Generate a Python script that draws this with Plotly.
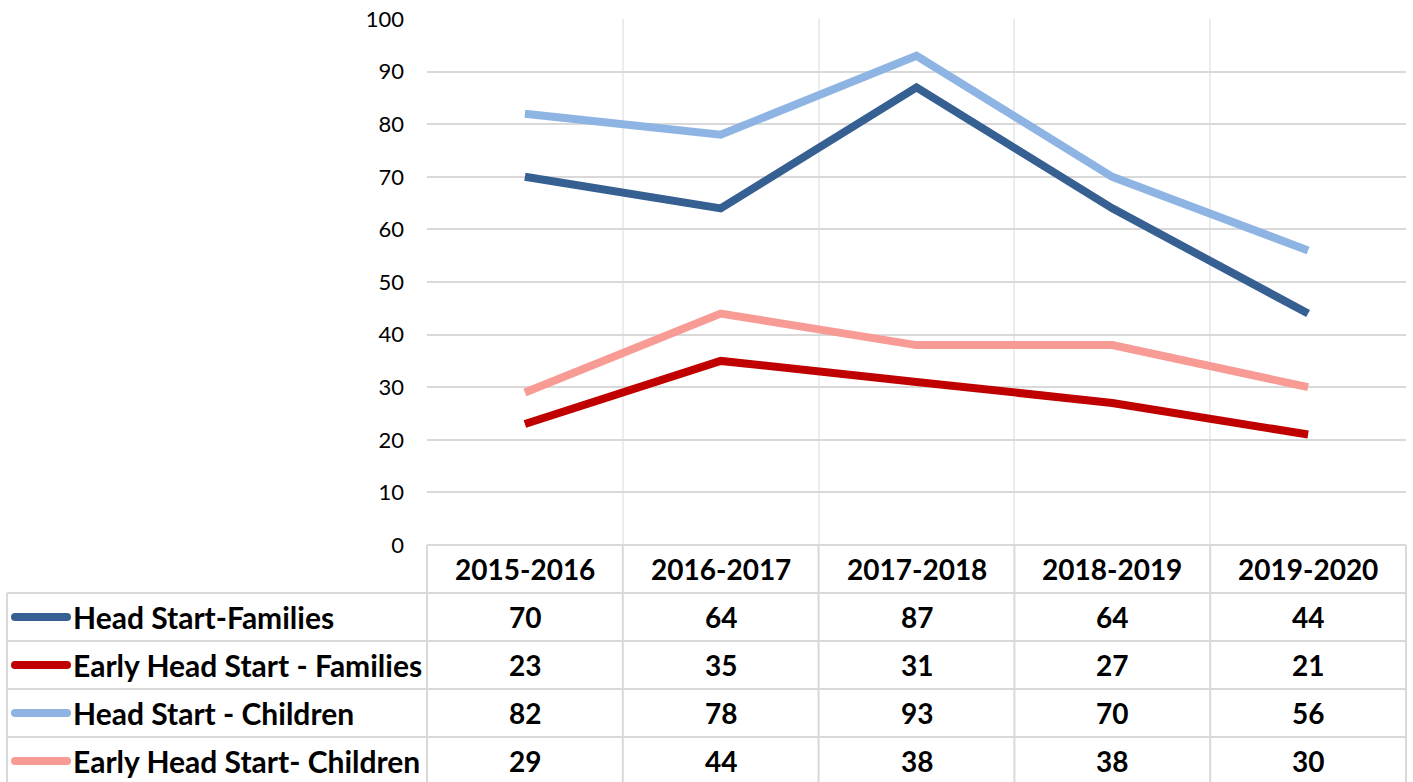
import plotly.graph_objects as go

categories = ["2015-2016", "2016-2017", "2017-2018", "2018-2019", "2019-2020"]
series_names = ["Head Start-Families", "Early Head Start - Families",
                "Head Start - Children", "Early Head Start- Children"]
hs_families = [70, 64, 87, 64, 44]
ehs_families = [23, 35, 31, 27, 21]
hs_children = [82, 78, 93, 70, 56]
ehs_children = [29, 44, 38, 38, 30]
colors = ["#376092", "#C00000", "#8EB4E3", "#F79B94"]
y_ticks = list(range(0, 101, 10))

W, H = 1413, 782
def px(x):
    return x / W
def py(y):
    return 1 - y / H

PLOT_L, PLOT_R, PLOT_T, PLOT_B = 427, 1406, 19, 545
TABLE_L = 7
ROW_H = 48
GRID = "#d9d9d9"
VGRID = "#ececec"
FONT = "Lato"

fig = go.Figure()
all_series = [hs_families, ehs_families, hs_children, ehs_children]
for name, vals, col in zip(series_names, all_series, colors):
    fig.add_trace(go.Scatter(x=categories, y=vals, name=name, mode="lines",
                             line=dict(color=col, width=8), showlegend=False))

fig.update_layout(
    template="none",
    width=W, height=H, margin=dict(l=0, r=0, t=0, b=0, pad=0),
    paper_bgcolor="white", plot_bgcolor="white",
    xaxis=dict(domain=[px(PLOT_L), px(PLOT_R)], type="category", range=[-0.5, 4.5],
               tickson="boundaries", showgrid=True, gridcolor=VGRID, gridwidth=2,
               showticklabels=False, ticks="", showline=False, zeroline=False,
               automargin=False),
    yaxis=dict(domain=[py(PLOT_B), py(PLOT_T)], range=[0, 100], tickvals=y_ticks,
               showgrid=True, gridcolor=GRID, gridwidth=2, zeroline=False,
               showline=False, ticks="", ticklabelstandoff=22, automargin=False,
               tickfont=dict(family=FONT, size=22, color="black")),
    font=dict(family=FONT),
)

shapes = []
def hline(x0, x1, y):
    shapes.append(dict(type="line", xref="paper", yref="paper", x0=px(x0), x1=px(x1),
                       y0=py(y), y1=py(y), line=dict(color=GRID, width=2)))
def vline(x, y0, y1):
    shapes.append(dict(type="line", xref="paper", yref="paper", x0=px(x), x1=px(x),
                       y0=py(y0), y1=py(y1), line=dict(color=GRID, width=2)))

# table grid
hline(PLOT_L, PLOT_R, PLOT_B)
n_rows = len(series_names)
for i in range(n_rows + 1):
    y = PLOT_B + ROW_H * (i + 1)
    if y < H:
        hline(TABLE_L, PLOT_R, y)
vline(TABLE_L, PLOT_B + ROW_H, H)
cw = (PLOT_R - PLOT_L) / len(categories)
for j in range(len(categories) + 1):
    vline(PLOT_L + cw * j, PLOT_B, H)

annotations = []
for j, c in enumerate(categories):
    annotations.append(dict(x=c, xref="x", y=py(PLOT_B + ROW_H / 2), yref="paper",
                            xanchor="center", yanchor="middle",
                            text=f"<b>{c}</b>", showarrow=False,
                            font=dict(family=FONT, size=28, color="black")))
for i, (name, vals, col) in enumerate(zip(series_names, all_series, colors)):
    yc = PLOT_B + ROW_H * (i + 1) + ROW_H / 2
    shapes.append(dict(type="line", xref="paper", yref="paper", x0=px(15), x1=px(67),
                       y0=py(yc), y1=py(yc), line=dict(color=col, width=8)))
    for xe in (15, 67):
        shapes.append(dict(type="circle", xref="paper", yref="paper",
                           x0=px(xe - 4), x1=px(xe + 4), y0=py(yc - 4), y1=py(yc + 4),
                           fillcolor=col, line=dict(width=0)))
    annotations.append(dict(x=px(71), xref="paper", y=py(yc), yref="paper",
                            xanchor="left", yanchor="middle",
                            text=f"<b>{name}</b>", showarrow=False,
                            font=dict(family=FONT, size=30, color="black")))
    for c, v in zip(categories, vals):
        annotations.append(dict(x=c, xref="x", y=py(yc), yref="paper",
                                xanchor="center", yanchor="middle",
                                text=f"<b>{v}</b>", showarrow=False,
                                font=dict(family=FONT, size=28, color="black")))

fig.update_layout(shapes=shapes, annotations=annotations)
fig.write_html("out.html", post_script="document.body.style.margin='0';",
               config={"displayModeBar": False})
